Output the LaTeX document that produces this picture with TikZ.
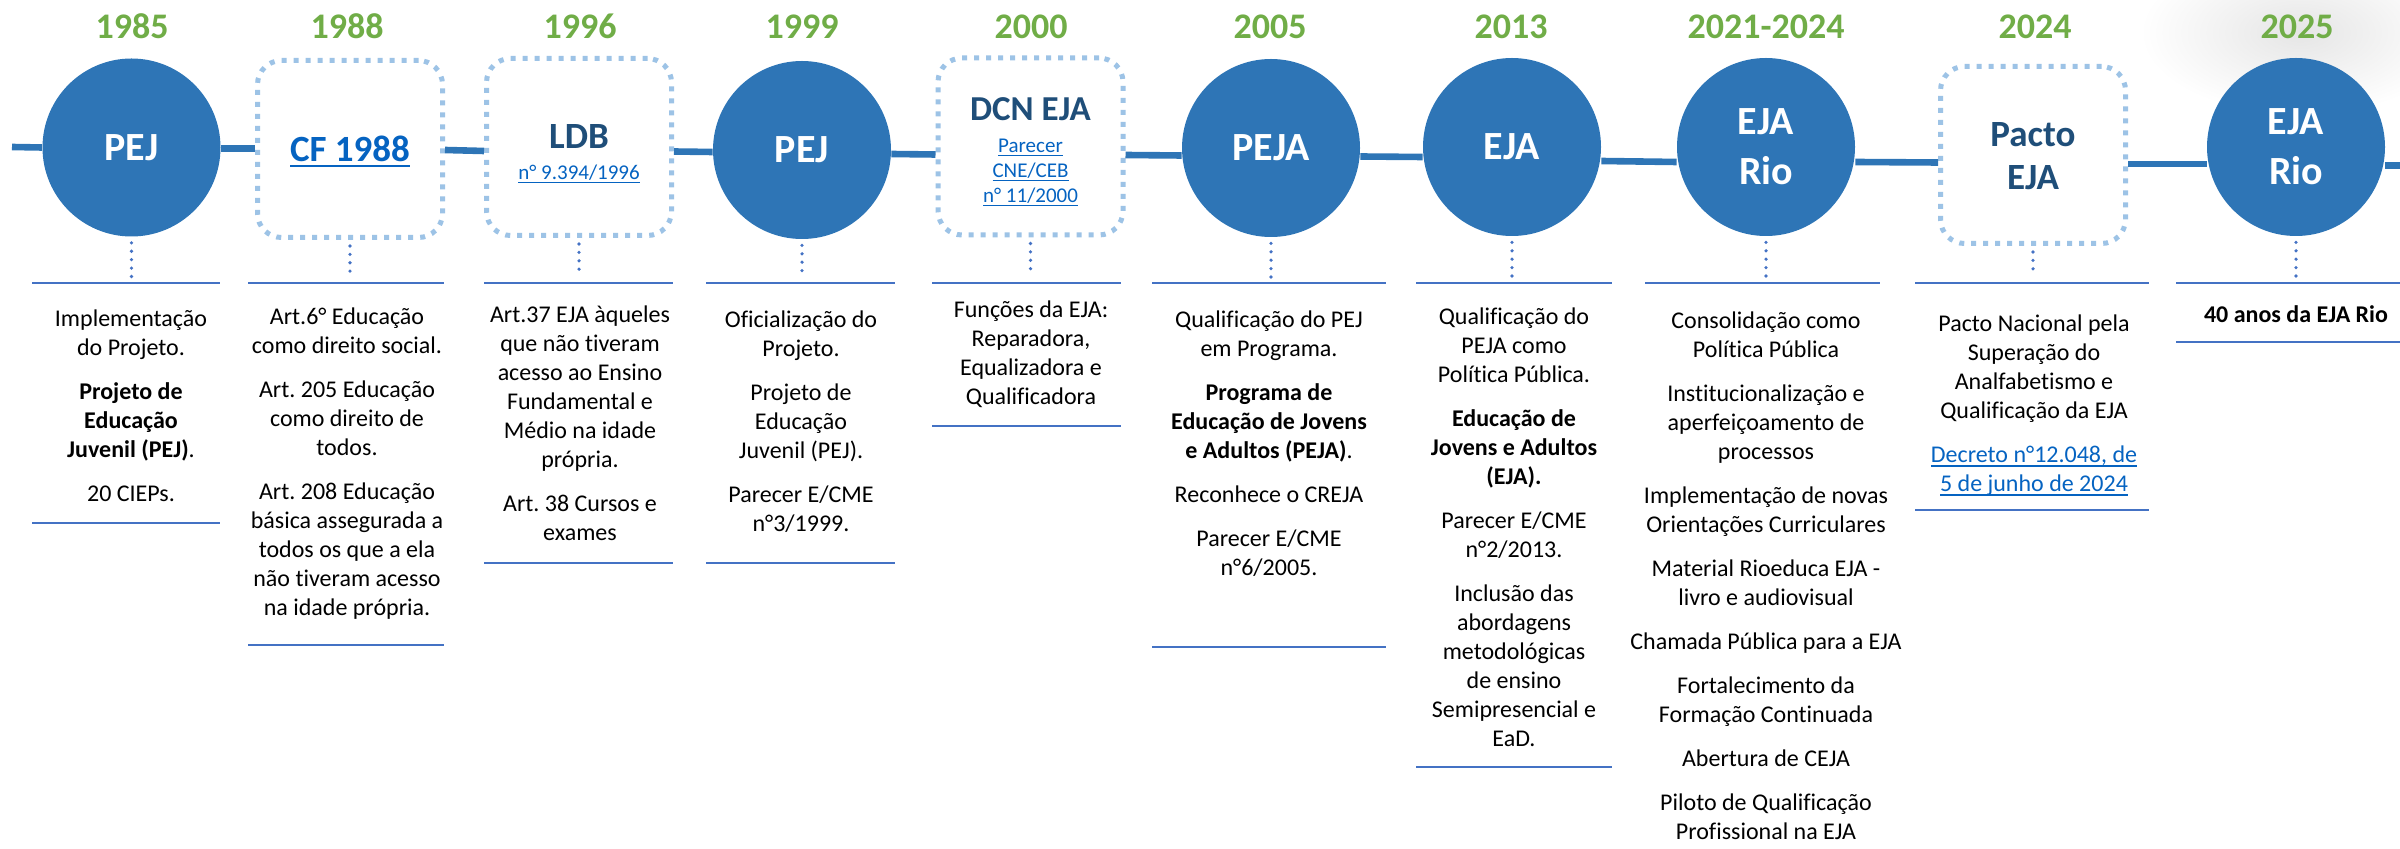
\documentclass[tikz,border=0pt]{standalone}
\usepackage{fontspec}
\setmainfont{Carlito}[Ligatures=CommonOff]
\usepackage{tikz}
\frenchspacing
\definecolor{tlblue}{HTML}{2E75B6}
\definecolor{boxblue}{HTML}{9DC3E6}
\definecolor{rulecol}{HTML}{4472C4}
\definecolor{yeargreen}{HTML}{70AD47}
\definecolor{navy}{HTML}{1F4E79}
\definecolor{linkblue}{HTML}{0563C1}
\newlength{\lnkthick}\setlength{\lnkthick}{0.55pt}
\newlength{\lnkdrop}\setlength{\lnkdrop}{2pt}
\newcommand{\linktxt}[1]{\textcolor{linkblue}{\setbox0=\hbox{#1}\rlap{\rule[-\lnkdrop]{\wd0}{\lnkthick}}\box0}}
\newcommand{\sublink}[1]{{\mdseries\fontsize{10.5}{12.5}\selectfont\linktxt{#1}}}

\begin{document}
\begin{tikzpicture}[x=0.5pt,y=-0.5pt,
  event node/.style={circle,fill=tlblue,minimum size=89pt,inner sep=0pt,text=white,font=\bfseries\fontsize{20}{25}\selectfont,align=center},
  law node/.style={rectangle,rounded corners=12pt,draw=boxblue,line width=2.5pt,dash pattern=on 2.5pt off 3.5pt,fill=white,minimum width=92.5pt,minimum height=88.5pt},
  law title/.style={text=navy,font=\bfseries\fontsize{18.5}{21.5}\selectfont,align=center,inner sep=0pt,anchor=north},
  year node/.style={text=yeargreen,font=\bfseries\fontsize{18}{21}\selectfont,anchor=base,inner sep=0pt},
  info/.style={font=\fontsize{12}{14.5}\selectfont,align=center,anchor=north,inner sep=0pt},
  timeline/.style={draw=tlblue,line width=3.3pt},
  col rule/.style={draw=rulecol,line width=1pt},
  dot link/.style={draw=rulecol,line width=1.8pt,line cap=round,dash pattern=on 0pt off 4.2pt,shorten <=3pt}]

  \useasboundingbox (0,0) rectangle (2400,849);
  \shade[inner color=black!10,outer color=white] (2140,-50) rectangle (2460,115);

  \foreach \x/\yr in {132/1985, 347/1988, 580/1996, 802/1999, 1031/2000,
    1270/2005, 1511/2013, 1766/2021-2024, 2035/2024, 2297/2025}
  \node[year node] (y\yr) at (\x,39) {\yr};

  \foreach \place/\name/\txt in {
    {(131.5,147.5)/pej85/PEJ},
    {(802,150)/pej99/PEJ},
    {(1271,148)/peja05/PEJA},
    {(1512,147)/eja13/EJA},
    {(1766,147)/ejario21/EJA\\Rio},
    {(2296,147)/ejario25/EJA\\Rio}}
  \node[event node] (\name) at \place {\txt};

  \foreach \place/\name in {
    {(350,149)/cf88},
    {(579,147)/ldb96},
    {(1030.5,146.5)/dcn00},
    {(2033,155)/pacto24}}
  \node[law node] (\name) at \place {};

  \node[law title,anchor=base] (cf88txt) at (350,162)
    {\setlength{\lnkthick}{1pt}\setlength{\lnkdrop}{2.5pt}\linktxt{CF 1988}};
  \node[law title,font=\bfseries\fontsize{18.5}{15.5}\selectfont] (ldb96txt) at (579,124)
    {LDB\\\sublink{n° 9.394/1996}};
  \node[law title,font=\bfseries\fontsize{17.5}{12.5}\selectfont] (dcn00txt) at (1030.5,97)
    {DCN EJA\\[3.5pt]\sublink{Parecer}\\\sublink{CNE/CEB}\\\sublink{n° 11/2000}};
  \node[law title] (pacto24txt) at (2033,122) {Pacto\\EJA};

  % linha do tempo
  \coordinate (tl-start) at (12,147);
  \coordinate (tl-end) at (2400,165.5);
  \draw[timeline] (tl-start) -- (pej85.west);
  \foreach \a/\ya/\b/\yb in {pej85/148.5/cf88/148.5, cf88/150/ldb96/151,
    ldb96/151.5/pej99/152, pej99/154/dcn00/154.5, dcn00/155/peja05/155.5,
    peja05/156.5/eja13/157, eja13/161/ejario21/162, ejario21/162/pacto24/162.5,
    pacto24/164/ejario25/164}
  \draw[timeline] (\a.east |- 0,\ya) -- (\b.west |- 0,\yb);
  \draw[timeline] (ejario25.east |- 0,165.5) -- (tl-end);

  \foreach \n in {pej85,cf88,ldb96,pej99,dcn00,peja05,eja13,ejario21,pacto24,ejario25}
  \draw[dot link] (\n.south) -- (\n.south |- 0,277);

  \foreach \xa/\xb in {32/220, 248/444, 484/673, 706/895, 932/1121,
    1152/1386, 1416/1612, 1645/1880, 1915/2149, 2176/2400}
  \draw[col rule] (\xa,283) -- (\xb,283);
  \foreach \xa/\xb/\yb in {32/220/523, 248/444/645, 484/673/563, 706/895/563,
    932/1121/426, 1152/1386/647, 1416/1612/767, 1915/2149/510, 2176/2400/342}
  \draw[col rule] (\xa,\yb) -- (\xb,\yb);

  \node[info] (col85) at (131,309.5) {Implementação\\do Projeto.\\[7.5pt]
    \textbf{Projeto de}\\\textbf{Educação}\\\textbf{Juvenil (PEJ)}.\\[7.5pt]20 CIEPs.};
  \node[info] (col88) at (347,307.5) {Art.6° Educação\\como direito social.\\[7.5pt]
    Art. 205 Educação\\como direito de\\todos.\\[7.5pt]
    Art. 208 Educação\\básica assegurada a\\todos os que a ela\\não tiveram acesso\\na idade própria.};
  \node[info] (col96) at (580,305.5) {Art.37 EJA àqueles\\que não tiveram\\acesso ao Ensino\\Fundamental e\\Médio na idade\\própria.\\[7.5pt]
    Art. 38 Cursos e\\exames};
  \node[info] (col99) at (801,310.5) {Oficialização do\\Projeto.\\[7.5pt]
    Projeto de\\Educação\\Juvenil (PEJ).\\[7.5pt]Parecer E/CME\\n°3/1999.};
  \node[info] (col00) at (1031,300.5) {Funções da EJA:\\Reparadora,\\Equalizadora e\\Qualificadora};
  \node[info] (col05) at (1269,310.5) {Qualificação do PEJ\\em Programa.\\[7.5pt]
    \textbf{Programa de}\\\textbf{Educação de Jovens}\\\textbf{e Adultos (PEJA)}.\\[7.5pt]
    Reconhece o CREJA\\[7.5pt]Parecer E/CME\\n°6/2005.};
  \node[info] (col13) at (1514,307.5) {Qualificação do\\PEJA como\\Política Pública.\\[7.5pt]
    \textbf{Educação de}\\\textbf{Jovens e Adultos}\\\textbf{(EJA).}\\[7.5pt]
    Parecer E/CME\\n°2/2013.\\[7.5pt]
    Inclusão das\\abordagens\\metodológicas\\de ensino\\Semipresencial e\\EaD.};
  \node[info] (col21) at (1766,311.5) {Consolidação como\\Política Pública\\[7.5pt]
    Institucionalização e\\aperfeiçoamento de\\processos\\[7.5pt]
    Implementação de novas\\Orientações Curriculares\\[7.5pt]
    Material Rioeduca EJA -\\livro e audiovisual\\[7.5pt]
    Chamada Pública para a EJA\\[7.5pt]
    Fortalecimento da\\Formação Continuada\\[7.5pt]
    Abertura de CEJA\\[7.5pt]
    Piloto de Qualificação\\Profissional na EJA};
  \node[info] (col24) at (2034,314.5) {Pacto Nacional pela\\Superação do\\Analfabetismo e\\Qualificação da EJA\\[7.5pt]
    \linktxt{Decreto n°12.048, de}\\\linktxt{5 de junho de 2024}};
  \node[info] (col25) at (2296,305.5) {\textbf{40 anos da EJA Rio}};
\end{tikzpicture}
\end{document}
